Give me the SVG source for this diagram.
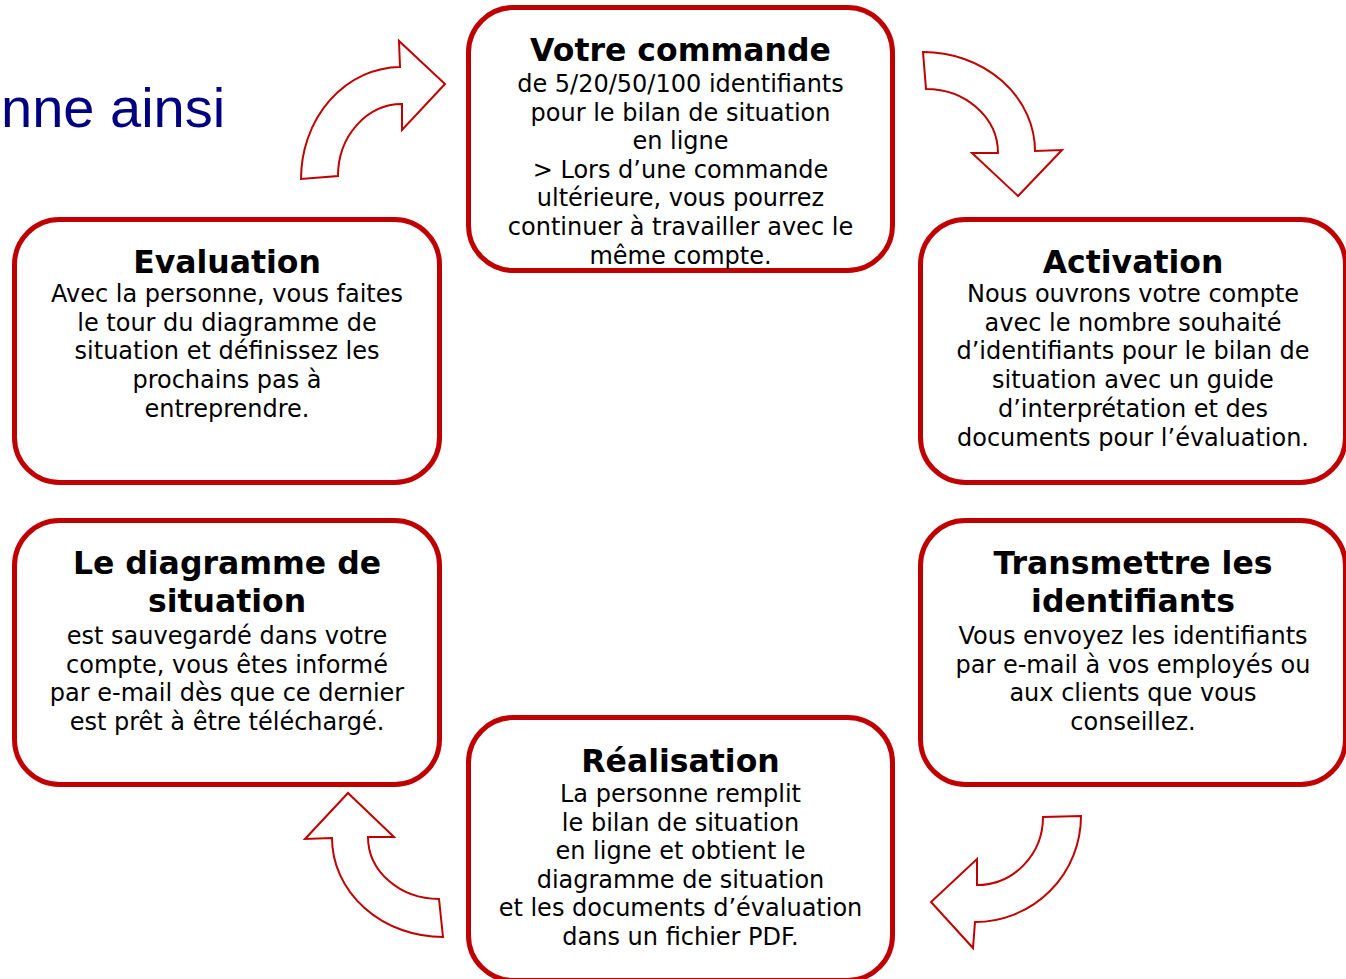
<svg xmlns="http://www.w3.org/2000/svg" width="1346" height="979" viewBox="0 0 1346 979">
<style>
.box{fill:#fff;stroke:#C00000;stroke-width:5}
.arr{fill:#fff;stroke:#C00000;stroke-width:2;stroke-linejoin:miter}
.t{font-family:"DejaVu Sans",Verdana,sans-serif;font-weight:bold;font-size:31.5px;fill:#000;text-anchor:middle}
.b{font-family:"DejaVu Sans",Verdana,sans-serif;font-size:24px;fill:#000;text-anchor:middle}
.h{font-family:"Liberation Sans",Arial,sans-serif;font-size:56px;fill:#000080}
</style>
<rect width="1346" height="979" fill="#fff"/>
<text class="h" x="1" y="127">nne ainsi</text>

<g id="connectors">
<path class="arr" d="M301,179 A100,112 0 0 1 400,67 L399,41 L445,84 L402,130 L402,104 A64,72 0 0 0 338,176 Z"/>
<path class="arr" d="M923,52 A112,99 0 0 1 1035,151 L1062,150 L1018,196 L972,153 L998,153 A72,64 0 0 0 926,89 Z"/>
<path class="arr" d="M1081,816 A106,106 0 0 1 975,922 L973,948 L931,902 L977,859 L977,885 A66,68 0 0 0 1043,817 Z"/>
<path class="arr" d="M443,937 A111,99 0 0 1 332,838 L305,839 L348,793 L394,837 L368,837 A71,62 0 0 0 439,899 Z"/>
</g>

<g id="commande">
<rect class="box" x="468.5" y="7.5" width="424" height="263" rx="45"/>
<text class="t" x="680.5" y="61">Votre commande</text>
<text class="b" x="680.5" y="92">de 5/20/50/100 identifiants</text>
<text class="b" x="680.5" y="120.6">pour le bilan de situation</text>
<text class="b" x="680.5" y="149.2">en ligne</text>
<text class="b" x="680.5" y="177.8">&gt; Lors d’une commande</text>
<text class="b" x="680.5" y="206.4">ultérieure, vous pourrez</text>
<text class="b" x="680.5" y="235">continuer à travailler avec le</text>
<text class="b" x="680.5" y="263.6">même compte.</text>
</g>

<g id="activation">
<rect class="box" x="920.5" y="219.5" width="425" height="263" rx="45"/>
<text class="t" x="1133" y="273">Activation</text>
<text class="b" x="1133" y="302">Nous ouvrons votre compte</text>
<text class="b" x="1133" y="330.7">avec le nombre souhaité</text>
<text class="b" x="1133" y="359.4">d’identifiants pour le bilan de</text>
<text class="b" x="1133" y="388.1">situation avec un guide</text>
<text class="b" x="1133" y="416.8">d’interprétation et des</text>
<text class="b" x="1133" y="445.5">documents pour l’évaluation.</text>
</g>

<g id="evaluation">
<rect class="box" x="14.5" y="219.5" width="425" height="263" rx="45"/>
<text class="t" x="227" y="273">Evaluation</text>
<text class="b" x="227" y="302">Avec la personne, vous faites</text>
<text class="b" x="227" y="330.7">le tour du diagramme de</text>
<text class="b" x="227" y="359.4">situation et définissez les</text>
<text class="b" x="227" y="388.1">prochains pas à</text>
<text class="b" x="227" y="416.8">entreprendre.</text>
</g>

<g id="diagramme">
<rect class="box" x="14.5" y="520.5" width="425" height="264" rx="45"/>
<text class="t" x="227" y="574">Le diagramme de</text>
<text class="t" x="227" y="612">situation</text>
<text class="b" x="227" y="644">est sauvegardé dans votre</text>
<text class="b" x="227" y="672.7">compte, vous êtes informé</text>
<text class="b" x="227" y="701.4">par e-mail dès que ce dernier</text>
<text class="b" x="227" y="730.1">est prêt à être téléchargé.</text>
</g>

<g id="transmettre">
<rect class="box" x="920.5" y="520.5" width="425" height="264" rx="45"/>
<text class="t" x="1133" y="574">Transmettre les</text>
<text class="t" x="1133" y="612">identifiants</text>
<text class="b" x="1133" y="644">Vous envoyez les identifiants</text>
<text class="b" x="1133" y="672.7">par e-mail à vos employés ou</text>
<text class="b" x="1133" y="701.4">aux clients que vous</text>
<text class="b" x="1133" y="730.1">conseillez.</text>
</g>

<g id="realisation">
<rect class="box" x="468.5" y="717.5" width="424" height="263" rx="45"/>
<text class="t" x="680.5" y="772">Réalisation</text>
<text class="b" x="680.5" y="802">La personne remplit</text>
<text class="b" x="680.5" y="830.6">le bilan de situation</text>
<text class="b" x="680.5" y="859.2">en ligne et obtient le</text>
<text class="b" x="680.5" y="887.8">diagramme de situation</text>
<text class="b" x="680.5" y="916.4">et les documents d’évaluation</text>
<text class="b" x="680.5" y="945">dans un fichier PDF.</text>
</g>
</svg>
